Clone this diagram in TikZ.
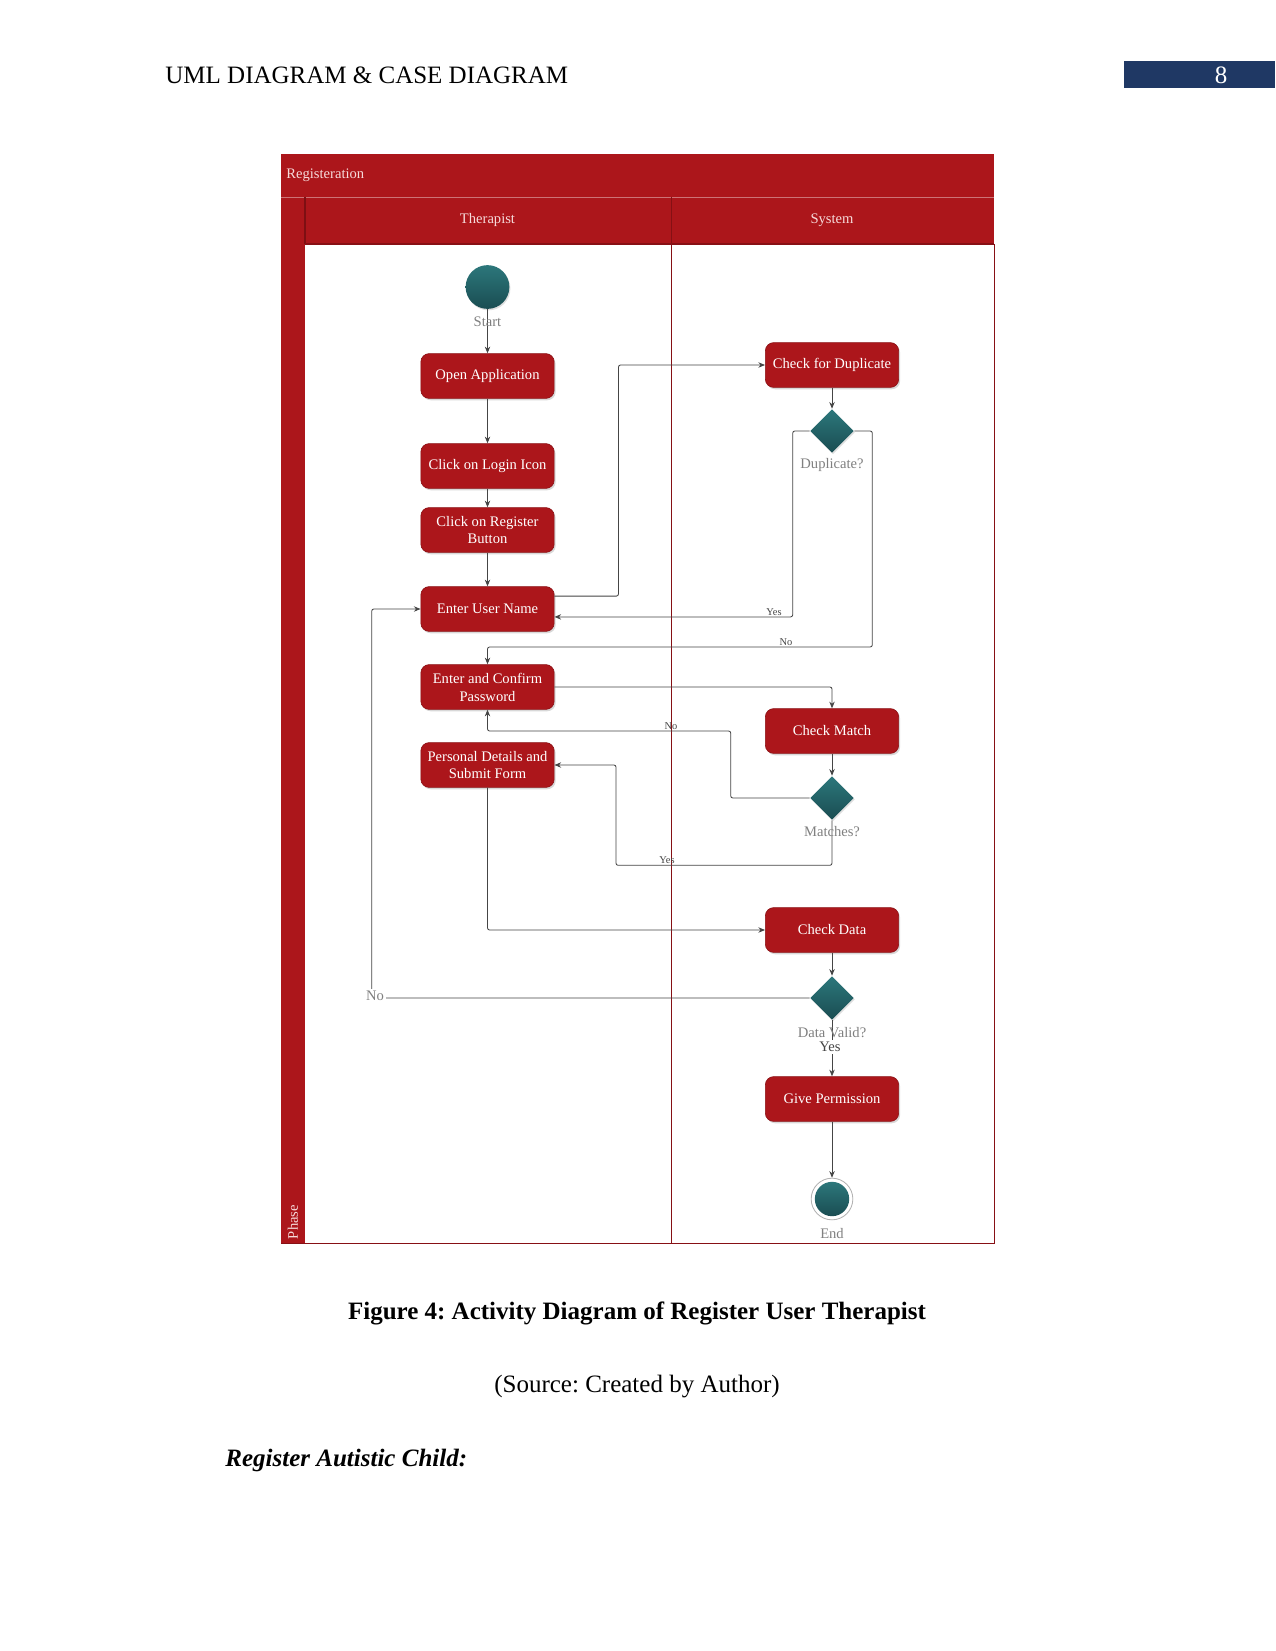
\documentclass[tikz,border=0pt]{standalone}
\usepackage{fontspec}
\setmainfont{Liberation Serif}
\usetikzlibrary{shapes.geometric,shadows,calc,arrows.meta}
\definecolor{umlred}{HTML}{AC161B}
\definecolor{umldark}{HTML}{7E0F13}
\definecolor{tealA}{HTML}{2C777B}
\definecolor{tealB}{HTML}{1A4D52}
\definecolor{pgblue}{HTML}{1F3864}
\definecolor{conngray}{HTML}{454545}
\definecolor{lblgray}{HTML}{808080}
\definecolor{hdrtext}{HTML}{F6DADA}
\frenchspacing
\begin{document}
\begin{tikzpicture}[x=0.48pt,y=-0.48pt,
  act/.style={draw=umldark!70!umlred, line width=0.3pt, fill=umlred, rounded corners=4pt,
    minimum width=64pt, minimum height=21.5pt, text=white, font=\fontsize{7}{8.6}\selectfont,
    align=center, inner sep=1pt,
    drop shadow={opacity=0.3, shadow xshift=0.7pt, shadow yshift=-0.9pt}},
  dec/.style={diamond, top color=tealA, bottom color=tealB, draw=none, minimum width=21pt,
    minimum height=21pt, inner sep=0pt,
    drop shadow={opacity=0.25, shadow xshift=0.5pt, shadow yshift=-0.7pt}},
  conn/.style={draw=conngray, line width=0.4pt, rounded corners=1pt, -{Stealth[length=3.2pt,width=2.6pt]}},
  lbl/.style={text=lblgray, font=\fontsize{7}{8}\selectfont, inner sep=0.5pt},
  tinylbl/.style={text=conngray, font=\fontsize{5}{5.5}\selectfont, inner sep=0.3pt},
  lanetxt/.style={text=hdrtext, font=\fontsize{7}{8}\selectfont, inner sep=0pt},
]
\useasboundingbox (0,0) rectangle (1275,1651);

% page header
\node[anchor=west, font=\fontsize{12}{14}\selectfont, inner sep=0pt] (hdr) at (165,75) {UML DIAGRAM \& CASE DIAGRAM};
\fill[pgblue] (1124,61) rectangle (1275,88);
\node[text=white, font=\fontsize{12}{14}\selectfont, inner sep=0pt] (pgno) at (1221,75) {8};

% swimlane frame
\fill[umlred] (281,154) rectangle (994,244);
\fill[umlred] (281,154) rectangle (305,1243);
\fill[white] (305,244) rectangle (994,1243);
\draw[umlred!60!white, line width=0.3pt] (281,197) -- (994,197);
\draw[umldark, line width=0.6pt] (305,197) -- (305,244);
\draw[umldark!80!umlred, line width=0.5pt] (305,244) -- (994,244);
\draw[umldark!80!umlred, line width=0.4pt] (994,244) -- (994,1243) -- (281,1243);
\draw[umldark!85!umlred, line width=0.4pt] (671,197) -- (671,1243);
\node[lanetxt, anchor=west] (ttl) at (286,175) {Registeration};
\node[lanetxt] (laneT) at (487.5,220) {Therapist};
\node[lanetxt] (laneS) at (832,220) {System};
\node[lanetxt, rotate=90] (phase) at (293,1222) {Phase};

% nodes - therapist lane
\node[circle, top color=tealA, bottom color=tealB, minimum size=21pt, inner sep=0pt,
  drop shadow={opacity=0.25, shadow xshift=0.5pt, shadow yshift=-0.7pt}] (start) at (487.5,287) {};
\node[act] (oa) at (487.5,376) {Open Application};
\node[act] (cli) at (487.5,466) {Click on Login Icon};
\node[act] (crb) at (487.5,530) {Click on Register\\Button};
\node[act] (eun) at (487.5,609) {Enter User Name};
\node[act] (ecp) at (487.5,687) {Enter and Confirm\\Password};
\node[act] (pd) at (487.5,765) {Personal Details and\\Submit Form};

% nodes - system lane
\node[act] (dup) at (832,365) {Check for Duplicate};
\node[dec] (dupd) at (832,431) {};
\node[act] (cm) at (832,731) {Check Match};
\node[dec] (md) at (832,798) {};
\node[act] (chd) at (832,930) {Check Data};
\node[dec] (dv) at (832,998) {};
\node[act] (gp) at (832,1099) {Give Permission};
\node[circle, draw=gray!60, line width=0.4pt, fill=white, minimum size=20pt, inner sep=0pt] (end) at (832,1199) {};
\node[circle, top color=tealA, bottom color=tealB, minimum size=16.5pt, inner sep=0pt] (endin) at (end.center) {};

% connectors
\draw[conn] (start.south) -- (oa.north);
\node[lbl] (lstart) at (487.5,322) {Start};
\draw[conn] (oa.south) -- (cli.north);
\draw[conn] (cli.south) -- (crb.north);
\draw[conn] (crb.south) -- (eun.north);
\draw[conn] ([yshift=6.2pt]eun.east) -- ++(64,0) |- (dup.west);
\draw[conn] (dup.south) -- (dupd.north);
\node[lbl] (ldup) at (832,465) {Duplicate?};
\draw[conn] (dupd.west) -- ++(-17,0) |- ([yshift=-3.8pt]eun.east);
\node[tinylbl] (lyes1) at (774,612) {Yes};
\draw[conn] (dupd.east) -- ++(18,0) -- ++(0,216) -| (ecp.north);
\node[tinylbl] (lno1) at (786,642) {No};
\draw[conn] (ecp.east) -| (cm.north);
\draw[conn] (cm.south) -- (md.north);
\draw[conn] (md.west) -- ++(-79,0) -- ++(0,-67) -| (ecp.south);
\node[tinylbl] (lno2) at (671,726) {No};
\draw[conn] (md.south) -- ++(0,45) -- ++(-216,0) |- (pd.east);
\node[lbl] (lmatch) at (832,832) {Matches?};
\node[tinylbl] (lyes2) at (667,860) {Yes};
\draw[conn] (pd.south) |- (chd.west);
\draw[conn] (chd.south) -- (dv.north);
\draw[conn] (dv.west) -- ++(-438,0) |- (eun.west);
\node[lbl, fill=white, inner sep=0.8pt] (lno3) at (375,996) {No};
\draw[conn] (dv.south) -- (gp.north);
\node[lbl] (ldv) at (832,1033) {Data Valid?};
\node[lbl, text=conngray, fill=white, inner sep=0.8pt] (lyes3) at (830,1047) {Yes};
\draw[conn] (gp.south) -- (end.north);
\node[lbl] (lend) at (832,1233) {End};

% caption
\node[font=\bfseries\fontsize{12}{14}\selectfont] (cap) at (637,1313) {Figure 4: Activity Diagram of Register User Therapist};
\node[font=\fontsize{12}{14}\selectfont] (src) at (637,1387) {(Source: Created by Author)};
\node[anchor=west, font=\bfseries\itshape\fontsize{12}{14}\selectfont, inner sep=0pt] (sub) at (225,1460) {Register Autistic Child:};
\end{tikzpicture}
\end{document}
